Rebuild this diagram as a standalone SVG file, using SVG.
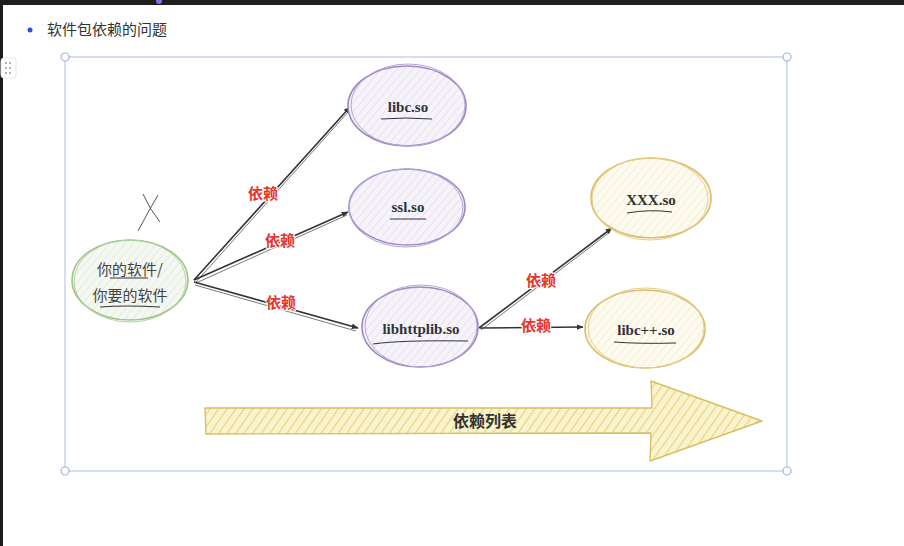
<svg xmlns="http://www.w3.org/2000/svg" width="904" height="546" viewBox="0 0 904 546">
<defs>
  <pattern id="hPurple" width="6" height="6" patternUnits="userSpaceOnUse" patternTransform="rotate(40)">
    <rect width="6" height="6" fill="#f6f4fa"/>
    <line x1="0" y1="0" x2="0" y2="6" stroke="#ddd6ea" stroke-width="1.2"/>
  </pattern>
  <pattern id="hGreen" width="6" height="6" patternUnits="userSpaceOnUse" patternTransform="rotate(40)">
    <rect width="6" height="6" fill="#f5f8f2"/>
    <line x1="0" y1="0" x2="0" y2="6" stroke="#d8e4cf" stroke-width="1.2"/>
  </pattern>
  <pattern id="hYellow" width="6" height="6" patternUnits="userSpaceOnUse" patternTransform="rotate(40)">
    <rect width="6" height="6" fill="#fdfaf0"/>
    <line x1="0" y1="0" x2="0" y2="6" stroke="#f1e6c4" stroke-width="1.2"/>
  </pattern>
  <pattern id="hArrow" width="7" height="7" patternUnits="userSpaceOnUse" patternTransform="rotate(35)">
    <rect width="7" height="7" fill="#faf3cf"/>
    <line x1="0" y1="0" x2="0" y2="7" stroke="#e8d580" stroke-width="2.4"/>
  </pattern>
  <marker id="ah" viewBox="0 0 10 10" refX="9" refY="5" markerWidth="7" markerHeight="7" orient="auto" markerUnits="userSpaceOnUse">
    <path d="M0,1 L10,5 L0,9 z" fill="#333"/>
  </marker>
  <style>
    .lbl{font-family:"Liberation Serif","Noto Serif",serif;font-weight:bold;font-size:15px;fill:#333;text-anchor:middle}
    .cn{font-family:"Noto Sans CJK SC","Noto Sans",sans-serif;font-size:15px;fill:#444;text-anchor:middle}
    .dep{font-family:"Noto Sans CJK SC","Noto Sans",sans-serif;font-weight:bold;font-size:15px;fill:#e8342c;text-anchor:middle;paint-order:stroke;stroke:#fff;stroke-width:2}
    .edge{stroke:#333;stroke-width:1.6;fill:none;marker-end:url(#ah)}
    .edge2{stroke:#555;stroke-width:0.8;fill:none}
    .pur{fill:url(#hPurple);stroke:#9d88c2;stroke-width:1.6}
    .grn{fill:url(#hGreen);stroke:#9cc388;stroke-width:1.6}
    .yel{fill:url(#hYellow);stroke:#dbbd6a;stroke-width:1.6}
    .ul{stroke:#333;stroke-width:1;fill:none}
    .sel{fill:none;stroke:#b8c6f2;stroke-width:1.2}
    .hd{fill:#fff;stroke:#9fb1ee;stroke-width:1.2}
  </style>
</defs>
<rect width="904" height="546" fill="#ffffff"/>
<rect x="0" y="0" width="904" height="5" fill="#1e1e1e"/>
<rect x="0" y="0" width="3" height="546" fill="#1e1e1e"/>
<circle cx="159" cy="1" r="3" fill="#8a6cf0"/>

<!-- header -->
<circle cx="30" cy="30" r="2.5" fill="#2b55d8"/>
<text x="47" y="35" font-family="Noto Sans CJK SC,Noto Sans,sans-serif" font-size="15" fill="#333">软件包依赖的问题</text>

<!-- drag handle -->
<rect x="1" y="58" width="15" height="20" rx="3" fill="#fff" stroke="#e6e6e6"/>
<g fill="#999">
  <circle cx="6" cy="63" r="1"/><circle cx="10" cy="63" r="1"/>
  <circle cx="6" cy="68" r="1"/><circle cx="10" cy="68" r="1"/>
  <circle cx="6" cy="73" r="1"/><circle cx="10" cy="73" r="1"/>
</g>

<!-- selection frame -->
<g id="frame">
  <rect class="sel" x="65" y="57" width="722" height="414"/>
  <circle class="hd" cx="65" cy="57" r="4"/>
  <circle class="hd" cx="787" cy="57" r="4"/>
  <circle class="hd" cx="65" cy="471" r="4"/>
  <circle class="hd" cx="787" cy="471" r="4"/>
</g>

<!-- connectors -->
<g id="connectors">
  <path class="edge" d="M194,280 L350,107"/>
  <path class="edge2" d="M196,282 L349,111"/>
  <path class="edge" d="M194,280 L348,212"/>
  <path class="edge2" d="M196,283 L347,215"/>
  <path class="edge" d="M194,282 L358,328"/>
  <path class="edge2" d="M195,285 L356,331"/>
  <path class="edge" d="M479,328 L612,228"/>
  <path class="edge2" d="M481,330 L610,232"/>
  <path class="edge" d="M480,328 L583,327"/>
  <text class="dep" x="263" y="199">依赖</text>
  <text class="dep" x="280" y="246">依赖</text>
  <text class="dep" x="281" y="308">依赖</text>
  <text class="dep" x="541" y="286">依赖</text>
  <text class="dep" x="536" y="331">依赖</text>
</g>

<!-- X mark -->
<g id="xmark" stroke="#555" stroke-width="1" fill="none">
  <path d="M143,194 Q150,210 160,222"/>
  <path d="M158,195 Q148,212 138,231"/>
</g>

<!-- nodes -->
<g id="node-you">
  <ellipse class="grn" cx="130" cy="280" rx="58" ry="40"/>
  <ellipse cx="130" cy="281" rx="56" ry="41" fill="none" stroke="#b4d3a4" stroke-width="1"/>
  <text class="cn" x="130" y="275">你的软件/</text>
  <text class="cn" x="130" y="301">你要的软件</text>
  <path class="ul" d="M110,278 L148,278"/>
  <path class="ul" d="M100,307 Q125,305 160,307"/>
</g>

<g id="node-libc">
  <ellipse class="pur" cx="407" cy="106" rx="59" ry="40"/>
  <ellipse cx="408" cy="105" rx="57" ry="41" fill="none" stroke="#b6a6d6" stroke-width="1"/>
  <text class="lbl" x="408" y="112">libc.so</text>
  <path class="ul" d="M381,119 Q405,117 432,119"/>
</g>

<g id="node-ssl">
  <ellipse class="pur" cx="407" cy="207" rx="58" ry="38"/>
  <ellipse cx="406" cy="208" rx="57" ry="39" fill="none" stroke="#b6a6d6" stroke-width="1"/>
  <text class="lbl" x="408" y="212">ssl.so</text>
  <path class="ul" d="M390,219 L426,219"/>
</g>

<g id="node-libhttplib">
  <ellipse class="pur" cx="420" cy="327" rx="58" ry="40"/>
  <ellipse cx="421" cy="326" rx="56" ry="41" fill="none" stroke="#b6a6d6" stroke-width="1"/>
  <text class="lbl" x="421" y="334">libhttplib.so</text>
  <path class="ul" d="M373,344 Q400,340 468,341"/>
</g>

<g id="node-xxx">
  <ellipse class="yel" cx="651" cy="198" rx="60" ry="40"/>
  <ellipse cx="650" cy="199" rx="58" ry="41" fill="none" stroke="#e6cf8c" stroke-width="1"/>
  <text class="lbl" x="651" y="205">XXX.so</text>
  <path class="ul" d="M627,213 Q650,209 672,212"/>
</g>

<g id="node-libcpp">
  <ellipse class="yel" cx="645" cy="329" rx="60" ry="39"/>
  <ellipse cx="646" cy="328" rx="58" ry="40" fill="none" stroke="#e6cf8c" stroke-width="1"/>
  <text class="lbl" x="646" y="335">libc++.so</text>
  <path class="ul" d="M614,342 Q640,344 676,343"/>
</g>

<!-- big arrow -->
<g id="dep-list">
  <path d="M205,408 L652,408 L651,381 L762,421 L650,461 L651,433 L206,434 Z" fill="url(#hArrow)" stroke="#d6c060" stroke-width="1.4" stroke-linejoin="round"/>
  <text x="485" y="427" font-family="Noto Sans CJK SC,Noto Sans,sans-serif" font-weight="bold" font-size="16" fill="#333" text-anchor="middle">依赖列表</text>
</g>
</svg>
